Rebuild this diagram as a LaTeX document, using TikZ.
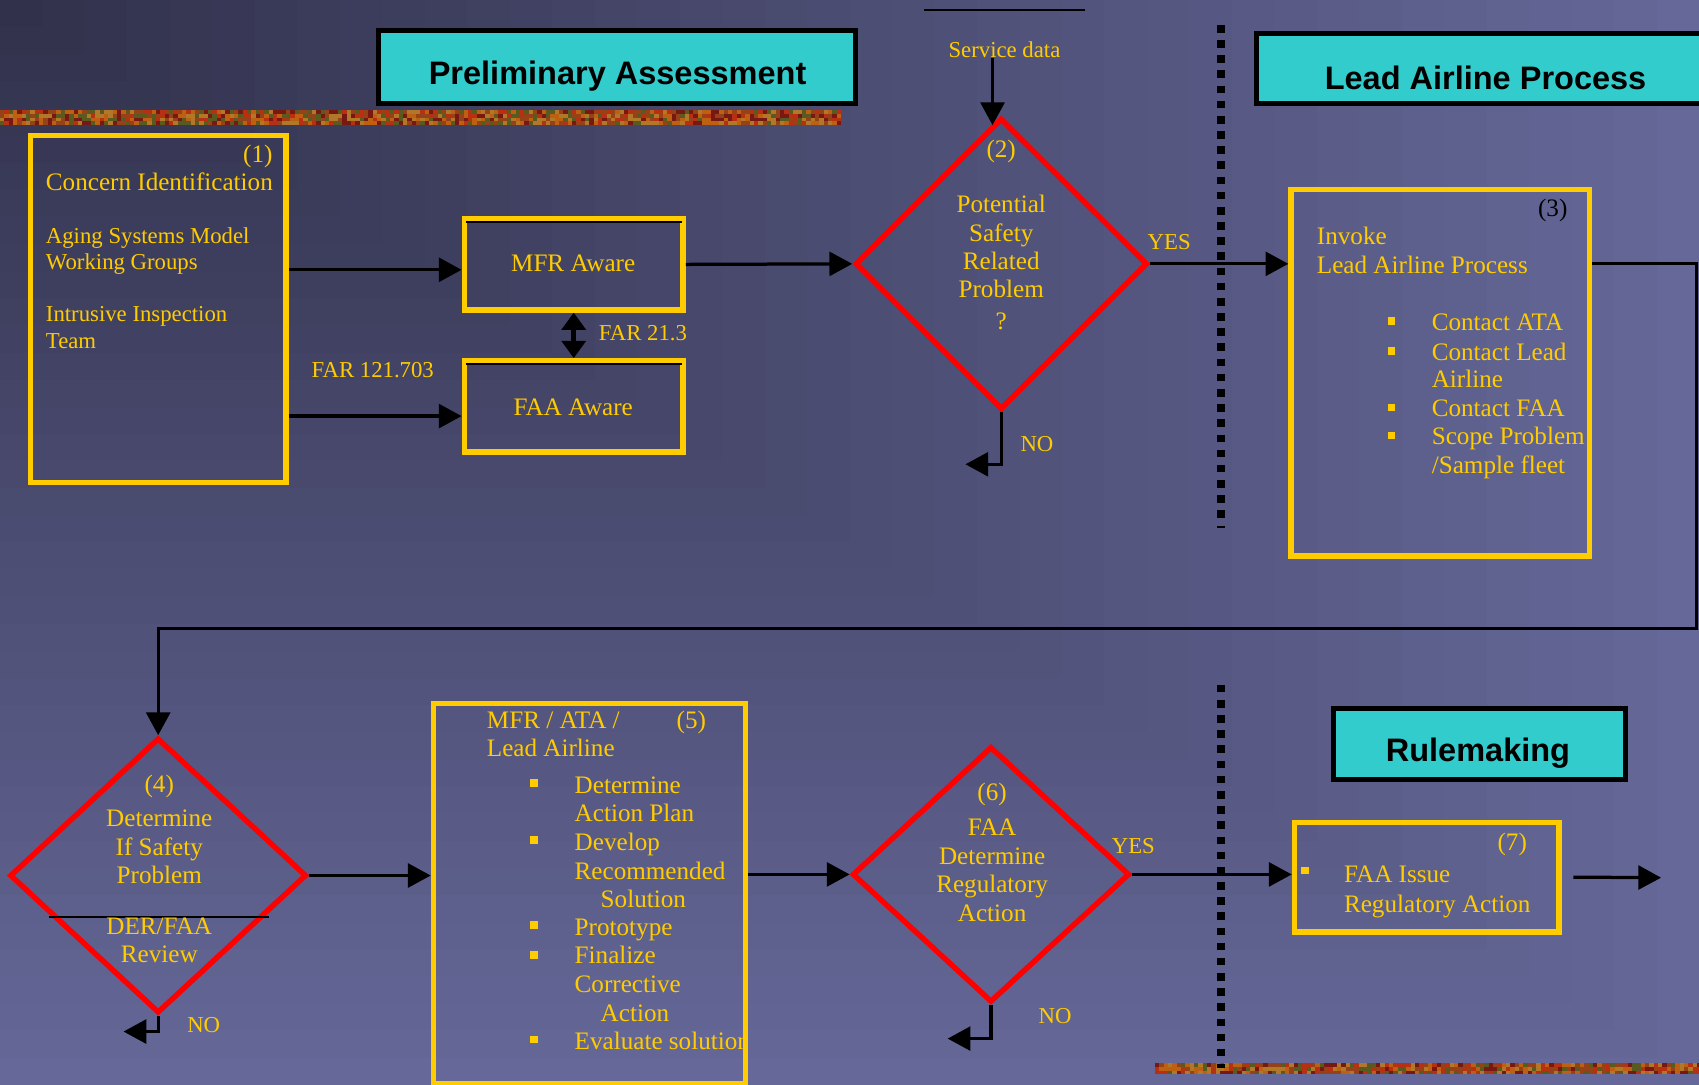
\documentclass[tikz,border=0pt]{standalone}
\usepackage{fontspec}
\setmainfont{Liberation Serif}
\newfontfamily\headfont{Liberation Sans}
\usetikzlibrary{shapes.geometric,arrows.meta}

\definecolor{bgdark}{RGB}{48,48,74}
\definecolor{bglight}{RGB}{101,104,152}
\definecolor{boxyellow}{RGB}{255,204,0}
\definecolor{headcyan}{RGB}{51,204,204}
\definecolor{texa}{RGB}{190,96,18}
\definecolor{texb}{RGB}{120,24,18}
\definecolor{texc}{RGB}{88,90,32}
\definecolor{texd}{RGB}{150,66,24}
\definecolor{texe}{RGB}{184,48,18}
\definecolor{texf}{RGB}{176,120,40}

\begin{document}
\begin{tikzpicture}[x=0.5pt, y=-0.5pt,
	yellowbox/.style={rectangle, draw=boxyellow, line width=2.5pt, inner sep=0pt},
	decision/.style={shape=diamond, draw=red, line width=2.5pt, inner sep=0pt},
	header/.style={rectangle, draw=black, fill=headcyan, line width=2.3pt, inner sep=0pt},
	headtext/.style={font={\headfont\bfseries\fontsize{15}{18}\selectfont}, text=black, inner sep=0pt, anchor=base},
	txt/.style={font=\fontsize{11.6}{14}\selectfont, text=boxyellow, inner sep=0pt, anchor=base west},
	txtc/.style={txt, anchor=base},
	small/.style={txt, font=\fontsize{10.5}{12}\selectfont},
	smallc/.style={small, anchor=base},
	bullet/.style={fill=boxyellow},
	arr/.style={line width=1.5pt, -{Triangle[length=10.5pt,width=11pt]}},
	dbl/.style={line width=2.5pt, {Triangle[length=8pt,width=11pt]}-{Triangle[length=8pt,width=11pt]}},
	divider/.style={line width=3.5pt, dash pattern=on 3.5pt off 3.5pt}]
	
	\useasboundingbox (0,0) rectangle (1568,1001);
	\clip (0,0) rectangle (1568,1001);
	
	% background, lighter towards the far corner
	\foreach \i in {40,39,...,1}{
		\pgfmathsetmacro{\p}{2.5*\i}
		\fill[bglight!\p!bgdark] (0,0) rectangle (39.2*\i, 25.025*\i);
	}
	
	% texture strips
	\pgfmathdeclarerandomlist{texcols}{{texa}{texb}{texc}{texd}{texe}{texf}}
	\pgfmathsetseed{11}
	\foreach \x in {0,4,...,772}
		\foreach \y in {101.5,105,108.5,112}{
			\pgfmathrandomitem{\tc}{texcols}
			\fill[\tc] (\x,\y) rectangle ++(4,3.5);
		}
	\foreach \x in {1066,1070,...,1566}
		\foreach \y in {981,984.5,988}{
			\pgfmathrandomitem{\tc}{texcols}
			\fill[\tc] (\x,\y) rectangle ++(4,3.5);
		}
	
	% headers
	\node[header, minimum width=220.2pt, minimum height=33.7pt] (hpre) at (569.5,62) {};
	\node[headtext] (tpre) at (570,78) {Preliminary Assessment};
	\node[header, minimum width=220pt, minimum height=32.25pt] (hlead) at (1380,63.2) {};
	\node[headtext] (tlead) at (1371,82.4) {Lead Airline Process};
	\node[header, minimum width=134.4pt, minimum height=32.5pt] (hrule) at (1365.3,686.7) {};
	\node[headtext] (trule) at (1364,703) {Rulemaking};
	
	\draw[line width=1pt] (853,9.2) -- (1001,9.2);
	\draw[divider] (1127,23) -- (1127,487);
	\draw[divider] (1127,632) -- (1127,986);
	
	% boxes and decisions
	\node[yellowbox, minimum width=118pt, minimum height=160.25pt] (b1) at (146,285.25) {};
	\node[yellowbox, minimum width=101pt, minimum height=42pt] (mfr) at (529.5,244) {};
	\node[yellowbox, minimum width=101pt, minimum height=42pt] (faa) at (529.5,375) {};
	\node[yellowbox, minimum width=137.75pt, minimum height=169pt] (b3) at (1329.25,344) {};
	\node[yellowbox, minimum width=144pt, minimum height=175.5pt] (b5) at (544,824.5) {};
	\node[yellowbox, minimum width=122pt, minimum height=50.5pt] (b7) at (1316.6,809.5) {};
	
	\node[decision, minimum width=135pt, minimum height=134.5pt] (d2) at (924,243.5) {};
	\node[decision, minimum width=137pt, minimum height=127pt] (d4) at (146,808) {};
	\node[decision, minimum width=128pt, minimum height=118pt] (d6) at (914.6,807) {};
	
	\draw[line width=0.8pt] ([shift={(4,5.5)}]mfr.north west) -- ([shift={(-4,5.5)}]mfr.north east);
	\draw[line width=0.8pt] ([shift={(4,5.5)}]faa.north west) -- ([shift={(-4,5.5)}]faa.north east);
	\draw[line width=0.75pt] (45,846) -- (248,846);
	
	% box 1
	\node[txtc] (n1) at (238,150) {(1)};
	\node[txt] (t1a) at (42,176) {Concern Identification};
	\node[small] (t1b) at (42,225) {Aging Systems Model};
	\node[small] (t1c) at (42,249) {Working Groups};
	\node[small] (t1d) at (42,297) {Intrusive Inspection};
	\node[small] (t1e) at (42,322) {Team};
	
	\node[txtc] (tmfr) at (529,251) {MFR Aware};
	\node[txtc] (tfaa) at (529,383) {FAA Aware};
	\node[smallc] (far1) at (344,348.5) {FAR 121.703};
	\node[smallc] (far2) at (593.4,314.5) {FAR 21.3};
	\node[smallc] (sd) at (927,53) {Service data};
	
	% decision 2
	\node[txtc] (n2) at (924,145) {(2)};
	\foreach \yy/\ww [count=\k] in {196/Potential, 223/Safety, 249/Related, 275/Problem, 304/?}
		\node[txtc] (t2-\k) at (924,\yy) {\ww};
	\node[smallc] (yes2) at (1079,230) {YES};
	\node[smallc] (no2) at (957,416.5) {NO};
	
	% box 3
	\node[txtc, text=black] (n3) at (1433,200) {(3)};
	\node[txt] (t3a) at (1215,225.5) {Invoke};
	\node[txt] (t3b) at (1215,252.5) {Lead Airline Process};
	\foreach \yy/\ww [count=\k] in {305/Contact ATA, 332.5/Contact Lead, 357.5/Airline, 384.5/Contact FAA, 410.5/Scope Problem}
		\node[txt] (t3-\k) at (1321,\yy) {\ww};
	\node[txt] (t3-6) at (1321,437) {/Sample fleet};
	\foreach \yy in {296,324,376,402}
		\fill[bullet] (1280.5,\yy-3.5) rectangle ++(7,7);
	
	% decision 4
	\node[txtc] (n4) at (147,731.5) {(4)};
	\foreach \yy/\ww [count=\k] in {762.5/Determine, 789.5/If Safety, 815.5/Problem, 862.5/DER\slash FAA, 888.5/Review}
		\node[txtc] (t4-\k) at (147,\yy) {\ww};
	\node[smallc] (no4) at (188,953) {NO};
	
	% box 5
	\node[txt] (t5a) at (449,672.5) {MFR / ATA /};
	\node[txtc] (n5) at (638,672.5) {(5)};
	\node[txt] (t5b) at (449,698.5) {Lead Airline};
	\foreach \yy/\ww [count=\k] in {732/Determine, 758.5/Action Plan, 784.5/Develop, 811.5/Recommended, 863.5/Prototype, 889.5/Finalize, 915.5/Corrective}
		\node[txt] (t5-\k) at (530,\yy) {\ww};
	\node[txt] (t5-8) at (554,837.5) {Solution};
	\node[txt] (t5-9) at (554,942.5) {Action};
	\begin{scope}
		\clip (400,900) rectangle (685.5,1001);
		\node[txt] (t5-10) at (530,968.5) {Evaluate solution};
	\end{scope}
	\foreach \yy in {722.4,775.3,853.8,881.5,959.3}
		\fill[bullet] (489.5,\yy-3.5) rectangle ++(7,7);
	
	% decision 6 and box 7
	\node[txtc] (n6) at (915.6,738.4) {(6)};
	\foreach \yy/\ww [count=\k] in {770.7/FAA, 797.7/Determine, 823.7/Regulatory, 850.7/Action}
		\node[txtc] (t6-\k) at (915.6,\yy) {\ww};
	\node[smallc] (yes6) at (1046,788) {YES};
	\node[smallc] (no6) at (973.8,945) {NO};
	
	\node[txtc] (n7) at (1395.6,784.5) {(7)};
	\fill[bullet] (1201,800) rectangle ++(7,7);
	\node[txt] (t7a) at (1240,814.7) {FAA Issue};
	\node[txt] (t7b) at (1240,842.3) {Regulatory Action};
	
	% connectors
	\draw[arr] (b1.east |- 0,249) -- (mfr.west |- 0,249);
	\draw[arr] (b1.east |- 0,384) -- (faa.west |- 0,384);
	\draw[dbl] (mfr.south) -- (faa.north);
	\draw[arr] (mfr.east) -- (d2.west);
	\draw[arr, shorten >=-4.5pt] ([xshift=-5.5pt]sd.south) -- ([xshift=-4pt]d2.north);
	\draw[arr] (d2.south) -- ++(0,48) -- ++(-33,0);
	\draw[arr] (d2.east) -- (b3.west |- d2.east);
	
	\coordinate (corner) at (1566,580);
	\draw[arr] (b3.east |- d2.east) -| (corner) -| (d4.north);
	\draw[arr] (d4.south) -- ++(0,14.5) -- ++(-32,0);
	\draw[arr] (d4.east) -- (b5.west |- d4.east);
	\draw[arr] (b5.east |- d6.west) -- (d6.west);
	\draw[arr] (d6.south) -- ++(0,31) -- ++(-40,0);
	\draw[arr] (d6.east) -- (b7.west |- d6.east);
	
	\coordinate (exit) at (1533,810);
	\draw[arr] ([xshift=5.5pt]b7.east) -- (exit);
	
\end{tikzpicture}
\end{document}
